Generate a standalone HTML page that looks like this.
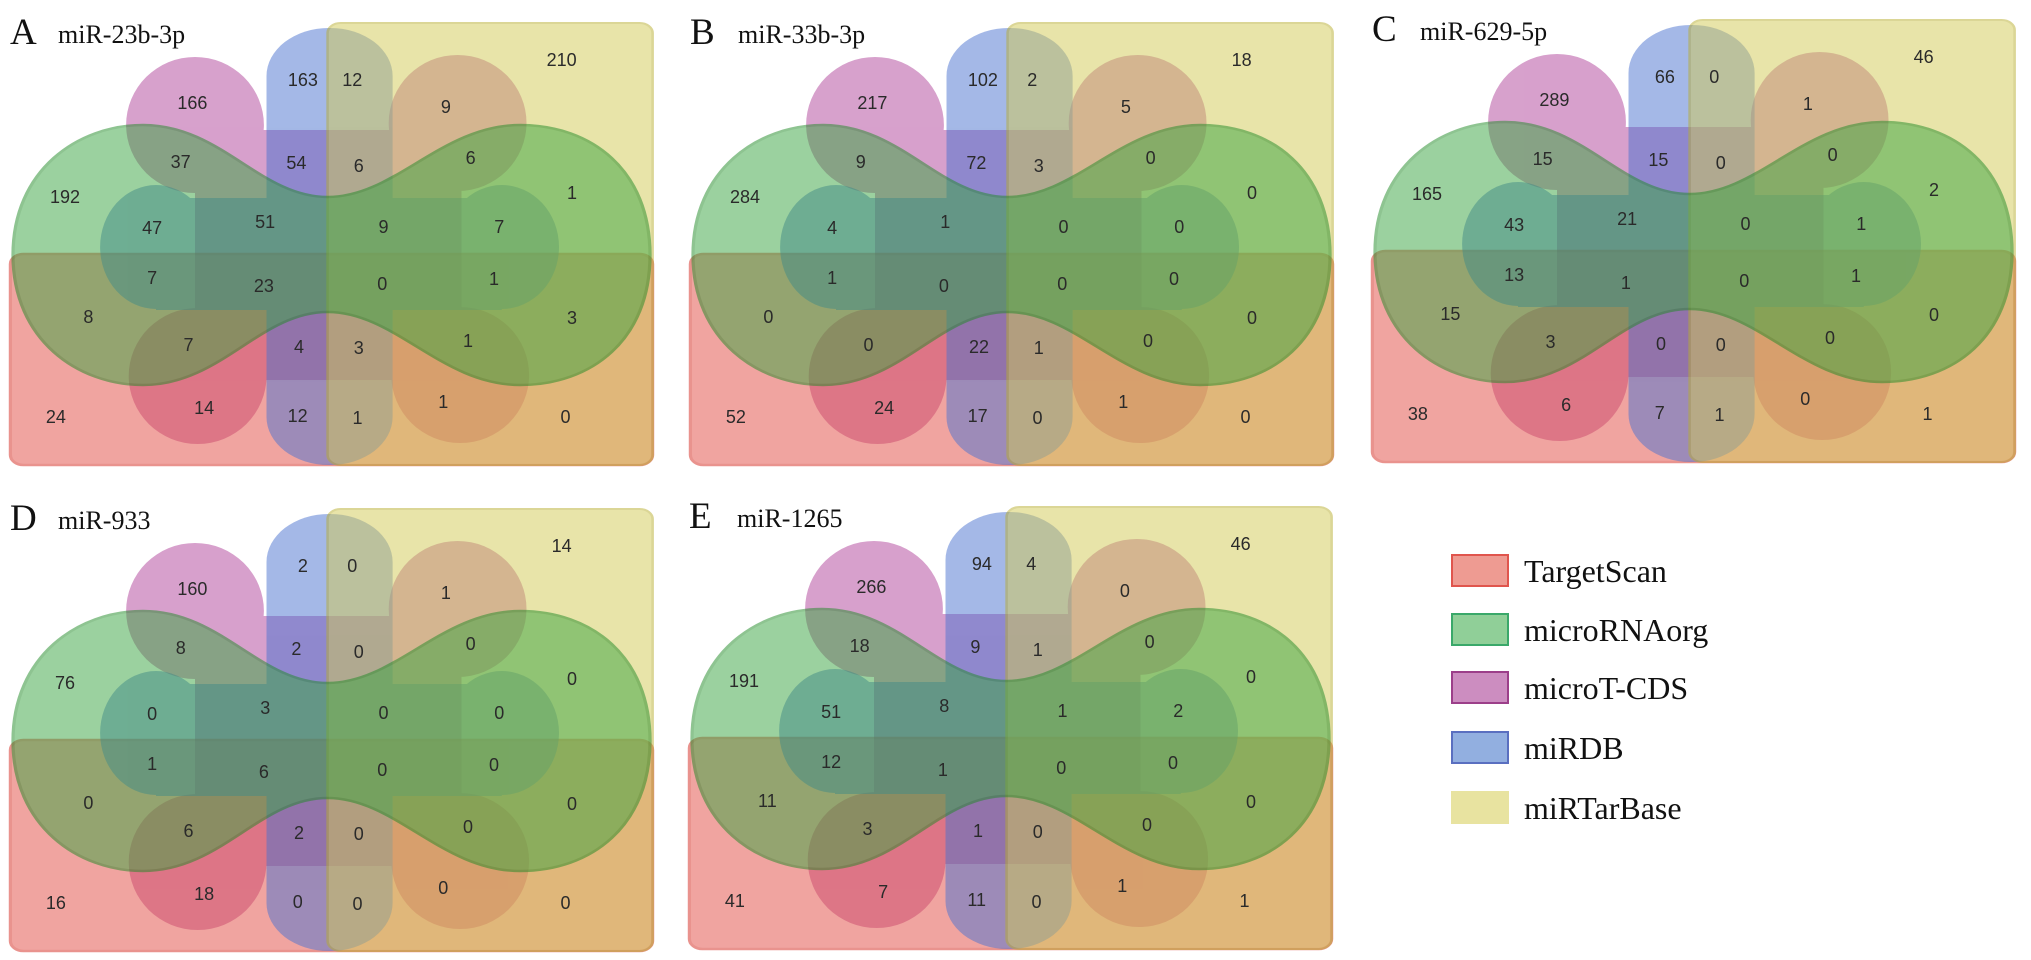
<!DOCTYPE html>
<html><head><meta charset="utf-8"><title>Venn diagrams of miRNA targets</title>
<style>
html,body{margin:0;padding:0;background:#fff;}
svg{display:block;}
.num{font-family:"Liberation Sans",sans-serif;font-size:18px;fill:#2a2a2a;text-anchor:middle;dominant-baseline:central;}
.ttl{font-family:"Liberation Serif",serif;fill:#111;}
</style></head>
<body>
<svg id="chart" width="2031" height="960" viewBox="0 0 2031 960" xmlns="http://www.w3.org/2000/svg">
</svg>
<script>
// Panel titles and letters
const panelLetters = ["A","B","C","D","E"];
const panelTitles = ["miR-23b-3p","miR-33b-3p","miR-629-5p","miR-933","miR-1265"];
// Region counts (same region order for every panel)
const countsA = [210,163,12,166,9,37,54,6,6,192,1,47,51,9,7,7,23,0,1,8,3,7,4,3,1,24,14,12,1,1,0];
const countsB = [18,102,2,217,5,9,72,3,0,284,0,4,1,0,0,1,0,0,0,0,0,0,22,1,0,52,24,17,0,1,0];
const countsC = [46,66,0,289,1,15,15,0,0,165,2,43,21,0,1,13,1,0,1,15,0,3,0,0,0,38,6,7,1,0,1];
const countsD = [14,2,0,160,1,8,2,0,0,76,0,0,3,0,0,1,6,0,0,0,0,6,2,0,0,16,18,0,0,0,0];
const countsE = [46,94,4,266,0,18,9,1,0,191,0,51,8,1,2,12,1,0,0,11,0,3,1,0,0,41,7,11,0,1,1];
const legendLabels = ["TargetScan","microRNAorg","microT-CDS","miRDB","miRTarBase"];

const allCounts = [countsA,countsB,countsC,countsD,countsE];
const NS = "http://www.w3.org/2000/svg";
const svg = document.getElementById("chart");
const SX = 1.3;
const panelTf = ["translate(0,0)","translate(680,0)","translate(1362,-3)","translate(0,486)","translate(679,484)"];
const regionPos = [[432,60],[233,80],[271,80],[148,103],[343,107],[139,162],[228,163],[276,166],[362,158],[50,197],[440,193],[117,228],[204,222],[295,227],[384,227],[117,278],[203,286],[294,284],[380,279],[68,317],[440,318],[145,345],[230,347],[276,348],[360,341],[43,417],[157,408],[229,416],[275,418],[341,402],[435,417]];

function mk(tag, attrs, parent){const e=document.createElementNS(NS,tag);for(const k in attrs)e.setAttribute(k,attrs[k]);parent.appendChild(e);return e;}

panelLetters.forEach((L,pi)=>{
  const g = mk("g",{transform:panelTf[pi]},svg);
  
  
  const sh = mk("g",{transform:"scale("+SX+",1)"},g);
  // microT-CDS (pink lobes)
  const pk = mk("g",{opacity:0.5},sh);
  
  
  [[150,125],[352,123],[152,376],[354,375]].forEach(c=>mk("ellipse",{cx:c[0],cy:c[1],rx:53,ry:68,fill:"#b0449a"},pk));
  mk("rect",{x:150,y:130,width:205,height:250,fill:"#b0449a"},pk);
  // TargetScan (red rect)
  const red = mk("g",{opacity:0.5},sh);
  
  
  mk("rect",{x:8,y:254,width:494,height:211,rx:10,fill:"#e34c43",stroke:"#d42a20","stroke-width":2.5},red);
  // miRDB (blue)
  const bl = mk("g",{opacity:0.5},sh);
  
  
  mk("rect",{x:205,y:28,width:97,height:437,rx:48,fill:"#4a72cf"},bl);
  mk("ellipse",{cx:120,cy:247,rx:43,ry:62,fill:"#4a72cf"},bl);
  mk("ellipse",{cx:386,cy:247,rx:44,ry:62,fill:"#4a72cf"},bl);
  mk("rect",{x:120,y:198,width:266,height:112,fill:"#4a72cf"},bl);
  // miRTarBase (yellow rect)
  const yel = mk("g",{opacity:0.5},sh);
  
  
  mk("rect",{x:252,y:23,width:250,height:442,rx:10,fill:"#d2ca55",stroke:"#b8ae30","stroke-width":2},yel);
  // microRNAorg (green blob)
  const grn = mk("g",{opacity:0.5},sh);
  
  
  mk("path",{d:"M10,255 C10,170 60,125 110,125 C170,125 200,197 252,197 C304,197 340,125 400,125 C455,125 500,170 500,255 C500,340 455,385 400,385 C340,385 304,312 252,312 C200,312 170,385 110,385 C60,385 10,340 10,255 Z",fill:"#3aa541",stroke:"#1f8a26","stroke-width":2.5},grn);
  // title
  const tl = mk("text",{x:10,y:44,class:"ttl","font-size":37},g);
  tl.textContent = L;
  
  
  const tt = mk("text",{x:58,y:43,class:"ttl","font-size":26},g);
  tt.textContent = panelTitles[pi];
  
  
  // counts
  allCounts[pi].forEach((v,ri)=>{
    const t = mk("text",{x:regionPos[ri][0]*SX,y:regionPos[ri][1],class:"num"},g);
    t.textContent = v;
    
    
  });
});

// legend
const legFill = ["#ee9b92","#90cf98","#cc8dc0","#92afe0","#e8e3a0"];
const legStroke = ["#e0554d","#3aa86a","#9c3f8a","#5a6fc0","#e8e3a0"];
const legY = [555,614,672,732,792];
const lg = mk("g",{},svg);


legendLabels.forEach((lab,i)=>{
  const r = mk("rect",{x:1452,y:legY[i],width:56,height:31,fill:legFill[i],stroke:legStroke[i],"stroke-width":2},lg);
  
  
  const t = mk("text",{x:1524,y:legY[i]+27,class:"ttl","font-size":32},lg);
  t.textContent = lab;
  
  
});
</script>
</body></html>
